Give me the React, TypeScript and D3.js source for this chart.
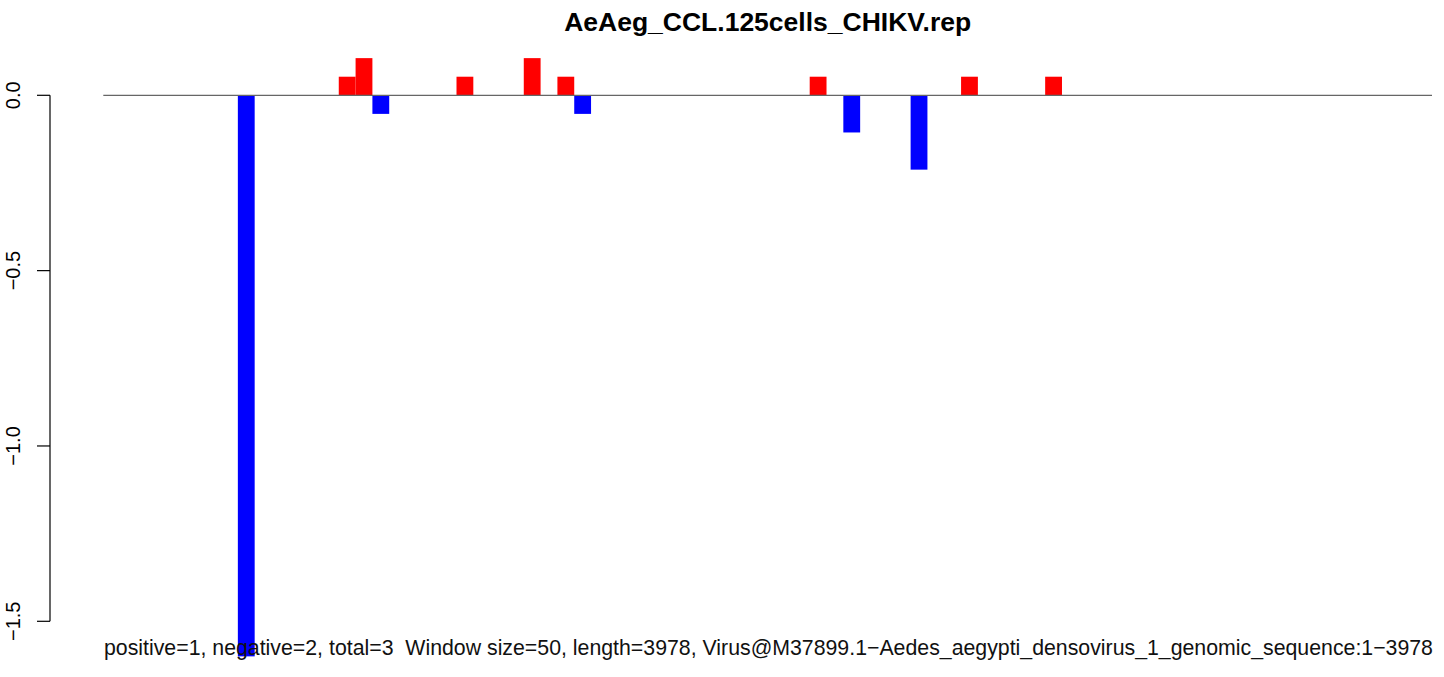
import React, { useEffect, useRef } from "react";
import * as d3 from "d3";

// one bar per 50nt window, 79 windows on the sequence
const nWindows = 79;
const windowIndex = [8, 14, 15, 16, 21, 25, 27, 28, 42, 44, 48, 51, 56];
const windowValue = [-1.6, 0.053, 0.106, -0.053, 0.053, 0.106, 0.053, -0.053, 0.053, -0.106, -0.212, 0.053, 0.053];
const yTicks = [0, -0.5, -1.0, -1.5];
const yTickLabels = ["0.0", "\u22120.5", "\u22121.0", "\u22121.5"];

const title = "AeAeg_CCL.125cells_CHIKV.rep";
const subtitle =
  "positive=1, negative=2, total=3  Window size=50, length=3978, Virus@M37899.1\u2212Aedes_aegypti_densovirus_1_genomic_sequence:1\u22123978";

const App: React.FC = () => {
  const svgRef = useRef<SVGSVGElement | null>(null);

  useEffect(() => {
    if (!svgRef.current) return;
    const width = 1444;
    const height = 677;
    const font = "'Liberation Sans', Arial, Helvetica, sans-serif";

    const svg = d3.select(svgRef.current);
    svg.selectAll("*").remove();
    svg.attr("width", width).attr("height", height);

    const x = d3.scaleLinear().domain([0, nWindows]).range([103.3, 1432]);
    const y = d3.scaleLinear().domain([0, -1.5]).range([95.3, 621.3]);

    const bars = windowIndex.map((idx, i) => ({ idx, v: windowValue[i] }));

    svg.append("g")
      .selectAll("rect")
      .data(bars)
      .enter()
      .append("rect")
      .attr("x", d => x(d.idx))
      .attr("width", d => x(d.idx + 1) - x(d.idx))
      .attr("y", d => Math.min(y(d.v), y(0)))
      .attr("height", d => Math.abs(y(d.v) - y(0)))
      .attr("fill", d => (d.v > 0 ? "#FF0000" : "#0000FF"));

    // horizontal zero line across plot region
    svg.append("line")
      .attr("x1", x(0))
      .attr("x2", x(nWindows))
      .attr("y1", y(0))
      .attr("y2", y(0))
      .attr("stroke", "#666")
      .attr("stroke-width", 1.2);

    // y axis, R style
    const axisX = 50;
    const ax = svg.append("g");
    ax.append("line")
      .attr("x1", axisX).attr("x2", axisX)
      .attr("y1", y(0)).attr("y2", y(-1.5))
      .attr("stroke", "#000").attr("stroke-width", 1.2);
    yTicks.forEach((t, i) => {
      ax.append("line")
        .attr("x1", axisX - 13).attr("x2", axisX)
        .attr("y1", y(t)).attr("y2", y(t))
        .attr("stroke", "#000").attr("stroke-width", 1.2);
      ax.append("text")
        .attr("transform", `translate(20,${y(t)}) rotate(-90)`)
        .attr("text-anchor", "middle")
        .style("font-family", font)
        .style("font-size", "20px")
        .text(yTickLabels[i]);
    });

    svg.append("text")
      .attr("x", (x(0) + x(nWindows)) / 2)
      .attr("y", 31)
      .attr("text-anchor", "middle")
      .style("font-family", font)
      .style("font-size", "26.5px")
      .style("font-weight", "bold")
      .text(title);

    svg.append("text")
      .attr("x", 104)
      .attr("y", 655)
      .style("font-family", font)
      .style("font-size", "21.3px")
      .style("white-space", "pre")
      .attr("fill", "#111")
      .text(subtitle);
  }, []);

  return (
    <svg ref={svgRef} style={{ position: "absolute", left: 0, top: 0, background: "#fff" }}></svg>
  );
};

export default App;
